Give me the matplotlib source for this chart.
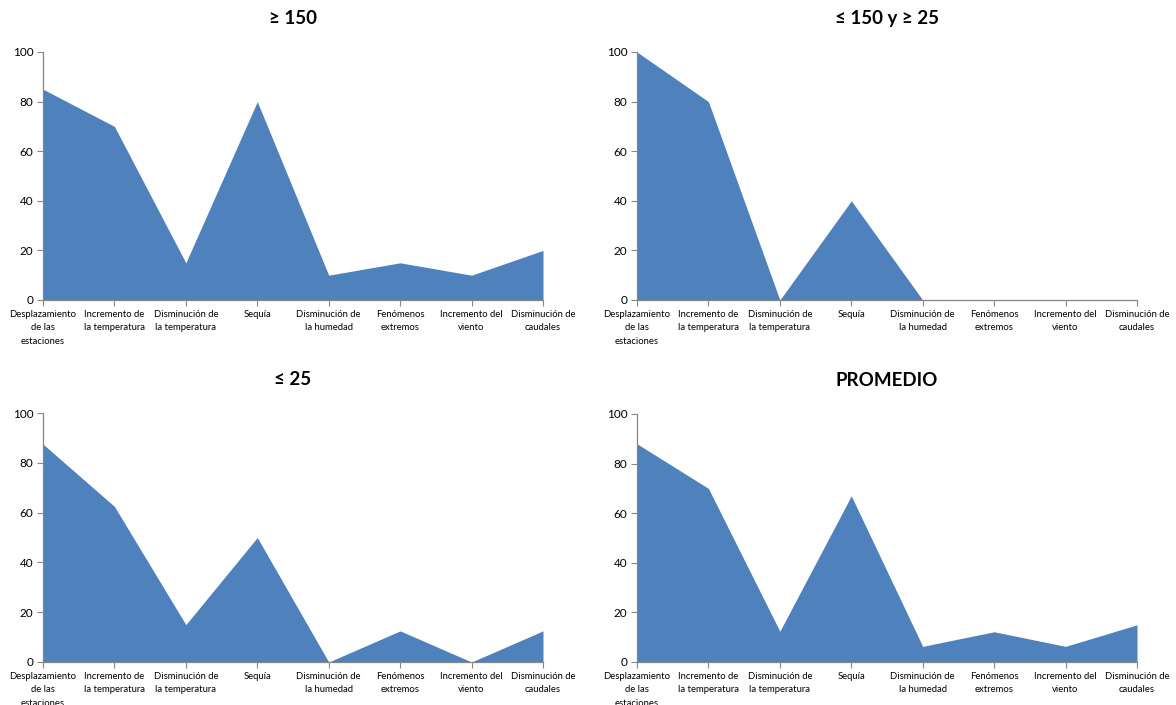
import matplotlib
matplotlib.use("Agg")
import matplotlib.pyplot as plt
import numpy as np

plt.rcParams['font.family'] = ['Lato', 'DejaVu Sans']

categories = ["Desplazamiento\nde las\nestaciones", "Incremento de\nla temperatura",
              "Disminución de\nla temperatura", "Sequía", "Disminución de\nla humedad",
              "Fenómenos\nextremos", "Incremento del\nviento", "Disminución de\ncaudales"]

titles = ["≥ 150", "≤ 150 y ≥ 25", "≤ 25", "PROMEDIO"]
vals_150 = [85, 70, 15, 80, 10, 15, 10, 20]
vals_150_25 = [100, 80, 0, 40, 0, 0, 0, 0]
vals_25 = [87.5, 62.5, 15, 50, 0, 12.5, 0, 12.5]
vals_prom = [88, 70, 12.4, 67, 6.3, 12.2, 6.3, 15]
series = [vals_150, vals_150_25, vals_25, vals_prom]

yticks = [0, 20, 40, 60, 80, 100]

fig = plt.figure(figsize=(11.76, 7.05), dpi=100)
W, H = 1176, 705
boxes = [(43, 52, 543, 300), (637, 52, 1137, 300),
         (43, 413, 543, 662), (637, 414, 1137, 662)]
axis_col = '#868686'
fill_col = '#4F81BD'

for (l, t, r, b), title, vals in zip(boxes, titles, series):
    ax = fig.add_axes([l / W, 1 - b / H, (r - l) / W, (b - t) / H])
    x = np.arange(len(categories))
    ax.fill_between(x, 0, vals, color=fill_col, linewidth=0)
    ax.set_xlim(0, len(categories) - 1)
    ax.set_ylim(0, 100)
    ax.set_yticks(yticks)
    ax.set_xticks(x)
    ax.set_xticklabels(categories, fontsize=6.8, linespacing=1.65)
    ax.tick_params(axis='y', labelsize=8.5, length=4, color=axis_col, pad=3)
    ax.tick_params(axis='x', length=4, color=axis_col, pad=3)
    for s in ['top', 'right']:
        ax.spines[s].set_visible(False)
    for s in ['left', 'bottom']:
        ax.spines[s].set_color(axis_col)
        ax.spines[s].set_linewidth(0.9)
    ax.set_title(title, fontsize=13.5, fontweight='bold', pad=20)

fig.savefig("out.png", dpi=100)
